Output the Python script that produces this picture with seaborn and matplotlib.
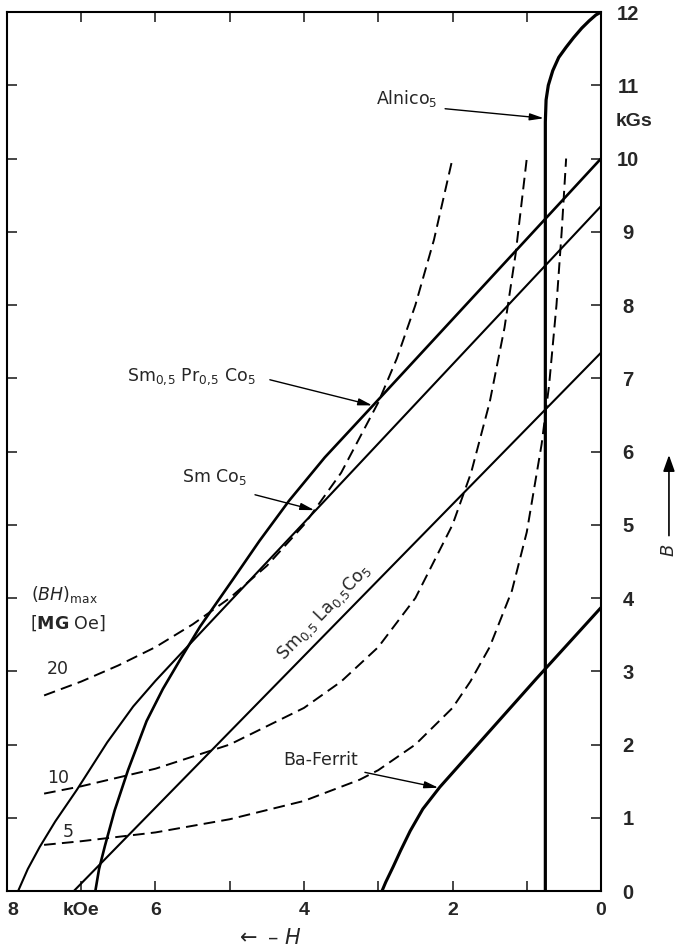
import matplotlib
matplotlib.use("Agg")
import matplotlib.pyplot as plt
import seaborn as sns

# Entmagnetisierungskurven: -H in kOe (nach links), B in kGs
alnico_h = [0.75, 0.75, 0.74, 0.71, 0.65, 0.57, 0.47, 0.37, 0.26, 0.16, 0.07, 0.0]
alnico_b = [0.0, 10.5, 10.8, 11.0, 11.2, 11.38, 11.52, 11.65, 11.78, 11.88, 11.96, 12.0]

smpr_h = [0.0, 3.07, 3.72, 4.2, 4.6, 4.96, 5.4, 5.65, 5.9, 6.12, 6.37, 6.55, 6.68, 6.76, 6.81]
smpr_b = [10.0, 6.63, 5.92, 5.33, 4.78, 4.25, 3.61, 3.19, 2.76, 2.32, 1.65, 1.1, 0.62, 0.3, 0.0]

smco_h = [0.0, 3.85, 5.65, 6.0, 6.3, 6.65, 7.06, 7.35, 7.56, 7.72, 7.85]
smco_b = [9.35, 5.19, 3.25, 2.87, 2.52, 2.03, 1.38, 0.95, 0.6, 0.3, 0.0]

smla_h = [0.0, 7.1]
smla_b = [7.35, 0.0]

ba_h = [0.0, 0.87, 1.45, 2.17, 2.4, 2.57, 2.7, 2.8, 2.9, 2.95]
ba_b = [3.87, 2.9, 2.24, 1.42, 1.12, 0.82, 0.55, 0.33, 0.12, 0.0]

# Kurven konstanter Energiedichte (BH) in MG Oe
bh20_h = [7.5, 7.0, 6.5, 6.0, 5.5, 5.0, 4.5, 4.0, 3.5, 3.0, 2.75, 2.5, 2.25, 2.0]
bh20_b = [2.67, 2.86, 3.08, 3.33, 3.64, 4.0, 4.44, 5.0, 5.71, 6.67, 7.27, 8.0, 8.89, 10.0]

bh10_h = [7.5, 7.0, 6.0, 5.0, 4.0, 3.5, 3.0, 2.5, 2.0, 1.75, 1.5, 1.3, 1.15, 1.0]
bh10_b = [1.33, 1.43, 1.67, 2.0, 2.5, 2.86, 3.33, 4.0, 5.0, 5.71, 6.67, 7.69, 8.7, 10.0]

bh5_h = [7.5, 7.0, 6.0, 5.0, 4.0, 3.25, 3.0, 2.5, 2.0, 1.76, 1.5, 1.2, 1.0, 0.8, 0.7, 0.6, 0.53, 0.47]
bh5_b = [0.63, 0.68, 0.8, 0.98, 1.23, 1.52, 1.65, 2.0, 2.5, 2.86, 3.33, 4.1, 4.9, 6.1, 6.9, 8.0, 9.0, 10.0]

x_ticks = [0, 1, 2, 3, 4, 5, 6, 7, 8]
x_labels = ["0", "", "2", "", "4", "", "6", "kOe", "8"]
y_ticks = list(range(0, 13))


def main():
    sns.set_style("ticks")
    plt.rcParams["font.family"] = ["DejaVu Sans"]
    plt.rcParams["mathtext.fontset"] = "dejavusans"

    fig = plt.figure(figsize=(6.84, 9.48), dpi=100)
    ax = fig.add_axes([0.0102, 0.0601, 0.8685, 0.9272])

    dash = (0, (6, 3.2))
    for h, b in [(bh20_h, bh20_b), (bh10_h, bh10_b), (bh5_h, bh5_b)]:
        sns.lineplot(x=h, y=b, ax=ax, color="k", lw=1.4, linestyle=dash,
                     sort=False, estimator=None)

    curves = [(smla_h, smla_b, 1.5), (smco_h, smco_b, 1.5), (smpr_h, smpr_b, 1.9),
              (ba_h, ba_b, 2.2), (alnico_h, alnico_b, 2.3)]
    for h, b, lw in curves:
        sns.lineplot(x=h, y=b, ax=ax, color="k", lw=lw, sort=False,
                     estimator=None, solid_capstyle="butt")

    ax.set_xlim(8, 0)
    ax.set_ylim(0, 12)
    ax.set_xticks(x_ticks)
    ax.set_xticklabels(x_labels)
    ax.set_yticks(y_ticks)
    ax.set_yticklabels([str(v) for v in y_ticks])
    ax.set_xlabel("")
    ax.set_ylabel("")

    ax.tick_params(axis="x", top=True, bottom=True, direction="in", length=7,
                   width=1.2, pad=8, labelsize=14)
    ax.tick_params(axis="y", left=True, right=True, labelleft=False,
                   labelright=True, direction="in", length=7, width=1.2,
                   pad=19.5, labelsize=14.5)
    for lbl in ax.get_yticklabels() + ax.get_xticklabels():
        lbl.set_fontfamily("Liberation Sans")
        lbl.set_fontweight("bold")
    for lbl in ax.get_yticklabels():
        lbl.set_horizontalalignment("center")
    ax.get_xticklabels()[-1].set_horizontalalignment("left")
    for sp in ax.spines.values():
        sp.set_linewidth(1.5)
        sp.set_color("k")

    ax.text(1.0 + 15 / 594, 10.5, "kGs", transform=ax.get_yaxis_transform(),
            ha="left", va="center", fontsize=14, family="Liberation Sans",
            weight="bold")

    # Beschriftungen der Kurven
    arrow = dict(arrowstyle="-|>,head_length=0.6,head_width=0.15", color="k",
                 lw=1.0, mutation_scale=14, shrinkA=0, shrinkB=0)
    fs = 12.5
    ax.text(2.62, 10.82, r"Alnico$_5$", ha="center", va="center", fontsize=fs)
    ax.annotate("", xy=(0.77, 10.55), xytext=(2.1, 10.68), arrowprops=arrow)

    ax.text(5.52, 7.02, r"Sm$_{0,\!5}$ Pr$_{0,\!5}$ Co$_5$", ha="center",
            va="center", fontsize=fs)
    ax.annotate("", xy=(3.08, 6.63), xytext=(4.46, 6.98), arrowprops=arrow)

    ax.text(5.2, 5.65, r"Sm Co$_5$", ha="center", va="center", fontsize=fs)
    ax.annotate("", xy=(3.86, 5.2), xytext=(4.66, 5.41), arrowprops=arrow)

    ax.text(3.72, 3.8, r"Sm$_{0,\!5}$ La$_{0,\!5}$Co$_5$", ha="center",
            va="center", fontsize=fs, rotation=46, rotation_mode="anchor")

    ax.text(3.78, 1.79, "Ba-Ferrit", ha="center", va="center", fontsize=fs)
    ax.annotate("", xy=(2.19, 1.41), xytext=(3.18, 1.62), arrowprops=arrow)

    ax.text(7.68, 4.05, r"$(\mathit{BH})_{\mathrm{max}}$", ha="left",
            va="center", fontsize=fs)
    ax.text(7.69, 3.66, r"[$\mathbf{MG}$ Oe]", ha="left", va="center", fontsize=fs)
    ax.text(7.31, 3.03, "20", ha="center", va="center", fontsize=fs)
    ax.text(7.31, 1.54, "10", ha="center", va="center", fontsize=fs)
    ax.text(7.18, 0.8, "5", ha="center", va="center", fontsize=fs)

    ax.text(0.44, -0.0535, r"$\leftarrow$ – $\mathit{H}$", transform=ax.transAxes,
            ha="center", va="center", fontsize=15)

    fig.text(0.978, 0.419, r"$\mathit{B}$", rotation=90, ha="center",
             va="center", fontsize=13)
    ax.annotate("", xy=(0.978, 0.520), xytext=(0.978, 0.435),
                xycoords="figure fraction", textcoords="figure fraction",
                arrowprops=dict(arrowstyle="-|>,head_length=0.7,head_width=0.25",
                                color="k", lw=1.2, mutation_scale=14,
                                shrinkA=0, shrinkB=0))

    fig.savefig("out.png", dpi=100)


if __name__ == "__main__":
    main()
